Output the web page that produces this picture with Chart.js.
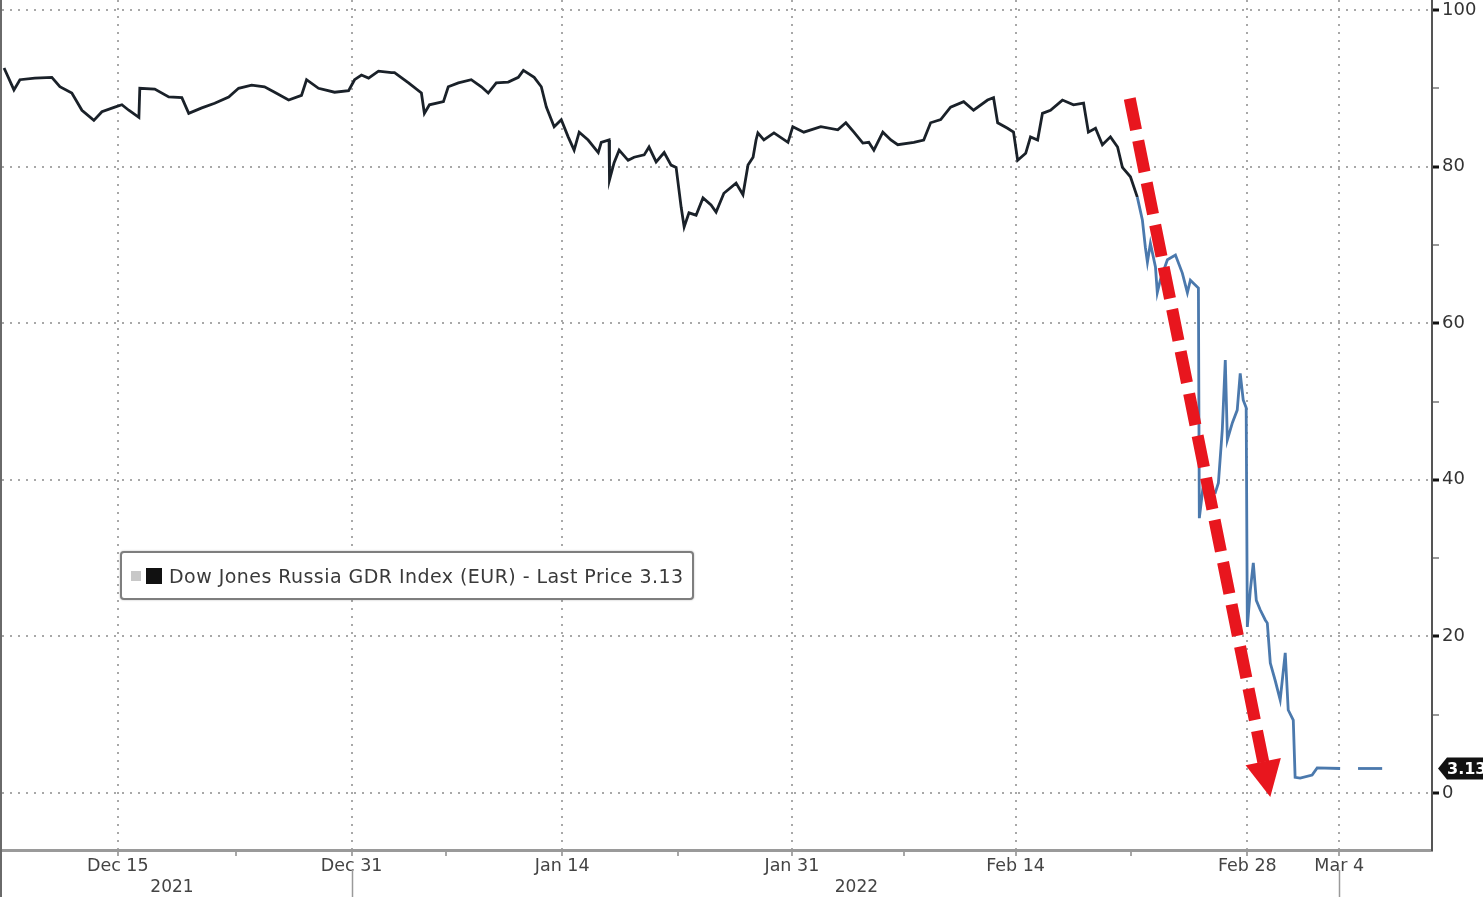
<!DOCTYPE html>
<html>
<head>
<meta charset="utf-8">
<title>Dow Jones Russia GDR Index (EUR)</title>
<script src="https://cdn.jsdelivr.net/npm/chart.js@4.4.1/dist/chart.umd.min.js"></script>
<style>
  html, body { margin: 0; padding: 0; background: #fff; }
  #wrap {
    position: absolute; left: 0; top: 0;
    width: 1483px; height: 897px;
    border-left: 2px solid #6a6a6a;
    box-sizing: border-box;
    overflow: hidden;
  }
  #grafico { display: block; }
  .leyenda {
    position: absolute; left: 118px; top: 551px;
    width: 574px; height: 49px;
    box-sizing: border-box;
    border: 2px solid #7e7e7e;
    border-radius: 4px;
    background: #fff;
    box-shadow: 0 0 2px rgba(0,0,0,.3);
    font-family: "DejaVu Sans", sans-serif;
    font-size: 19px;
    letter-spacing: 0.45px;
    color: #3a3a3a;
    display: flex; align-items: center;
    padding-left: 9px;
    white-space: nowrap;
  }
  .leyenda .sq1 { width: 10px; height: 10px; background: #c8c8c8; margin-right: 5px; }
  .leyenda .sq2 { width: 16px; height: 16px; background: #111; margin-right: 7px; }
</style>
</head>
<body>
<div id="wrap">
  <canvas id="grafico" width="1481" height="897"></canvas>
  <div class="leyenda" id="leyenda"><span class="sq1"></span><span class="sq2"></span><span id="leyendaTexto"></span></div>
</div>

<script>
// --- Datos (x = días hábiles desde el borde izquierdo) ---
const nombreSerie = "Dow Jones Russia GDR Index (EUR)";
const ultimoPrecio = 3.13;

const dias = [
  0.09, 0.52, 0.78, 1.43, 2.17, 2.52, 3.04, 3.48, 4.00, 4.35, 4.91, 5.22, 5.52, 5.96, 6.00,
  6.65, 7.26, 7.83, 8.13, 8.70, 9.26, 9.87, 10.30, 10.87, 11.43, 11.87, 12.48, 13.04, 13.26,
  13.78, 14.48, 15.09, 15.35, 15.65, 15.96, 16.39, 16.96, 17.09, 17.70, 18.26, 18.39, 18.61,
  19.22, 19.43, 19.87, 20.43, 20.87, 21.17, 21.52, 22.04, 22.48, 22.70, 23.17, 23.48, 23.70,
  24.04, 24.35, 24.65, 24.91, 25.13, 25.52, 25.96, 26.09, 26.43, 26.45, 26.65, 26.87, 27.26,
  27.52, 27.96, 28.17, 28.48, 28.83, 29.13, 29.35, 29.57, 29.70, 29.91, 30.22, 30.52, 30.87,
  31.09, 31.43, 31.96, 32.26, 32.48, 32.70, 32.83, 32.91, 33.17, 33.61, 34.22, 34.43, 34.91,
  35.65, 36.39, 36.74, 37.09, 37.48, 37.74, 37.96, 38.35, 38.70, 39.00, 39.70, 40.13, 40.43,
  40.87, 41.30, 41.87, 42.30, 42.91, 43.17, 43.35, 43.78, 44.04, 44.22, 44.57, 44.78, 45.09,
  45.30, 45.65, 46.17, 46.65, 47.09, 47.30, 47.61, 47.91, 48.26, 48.57, 48.78, 49.13, 49.43,
  49.65, 49.78, 49.87, 50.00, 50.22, 50.30, 50.43, 50.74, 51.09, 51.39, 51.61, 51.74, 52.09,
  52.13, 52.30, 52.61, 52.83, 52.96, 53.13, 53.26, 53.35, 53.57, 53.78, 53.91, 54.04, 54.17,
  54.22, 54.35, 54.48, 54.61, 54.78, 55.00, 55.09, 55.22, 55.43, 55.65, 55.87, 56.00, 56.22,
  56.30, 56.52, 57.04, 57.26, 58.26, 58.60, 59.04, 60.09
];

const precios = [
  92.6, 89.8, 91.1, 91.3, 91.4, 90.2, 89.4, 87.2, 85.9, 87.0, 87.6, 87.9, 87.2, 86.3, 90.0,
  89.9, 88.9, 88.8, 86.8, 87.5, 88.1, 88.9, 90.0, 90.4, 90.2, 89.5, 88.5, 89.1, 91.1,
  90.0, 89.5, 89.7, 91.1, 91.7, 91.3, 92.2, 92.0, 92.0, 90.7, 89.4, 86.8, 87.9,
  88.3, 90.2, 90.7, 91.1, 90.2, 89.4, 90.7, 90.8, 91.4, 92.3, 91.4, 90.2, 87.6,
  85.1, 86.0, 83.8, 82.1, 84.4, 83.4, 81.8, 83.1, 83.4, 78.3, 80.5, 82.1, 80.8,
  81.2, 81.5, 82.5, 80.6, 81.8, 80.2, 79.9, 74.8, 72.3, 74.1, 73.8, 76.0, 75.1,
  74.2, 76.6, 77.9, 76.4, 80.2, 81.2, 83.4, 84.3, 83.4, 84.3, 83.1, 85.1, 84.4,
  85.1, 84.7, 85.6, 84.4, 83.0, 83.1, 82.1, 84.4, 83.4, 82.8, 83.1, 83.4, 85.6,
  86.0, 87.6, 88.3, 87.2, 88.5, 88.8, 85.6, 84.9, 84.4, 80.8, 81.7, 83.8, 83.4,
  86.8, 87.2, 88.5, 87.9, 88.1, 84.4, 84.9, 82.8, 83.8, 82.5, 79.9, 78.7, 76.1,
  73.2, 69.7, 67.8, 70.2, 67.2, 63.9, 65.5, 68.1, 68.7, 66.4, 63.9, 65.5, 64.5,
  35.1, 39.3, 38.7, 38.4, 39.6, 46.4, 55.3, 45.1, 47.3, 48.9, 53.6, 50.2, 49.2,
  21.2, 25.9, 29.4, 24.6, 23.4, 22.1, 21.7, 16.6, 14.4, 11.9, 17.9, 10.6, 9.3,
  2.0, 1.9, 2.3, 3.2, 3.13, null, 3.13, 3.13
];

// Marcas del eje X (las que tienen texto llevan línea de grilla)
const marcasX = [5.04, 10.17, 15.22, 19.35, 24.39, 29.43, 34.39, 39.26, 44.13, 49.17, 54.22, 58.22];
const etiquetasX = ["Dec 15", "", "Dec 31", "", "Jan 14", "", "Jan 31", "", "Feb 14", "", "Feb 28", "Mar 4"];
const anios = ["2021", "2022"];
const posAnios = [7.4, 37.2];
const separadoresX = [15.22, 58.22];

// Eje Y
const marcasY = [0, 10, 20, 30, 40, 50, 60, 70, 80, 90, 100];
const limitesY = [-7.28, 101.28];
const limitesX = [0, 62.26];

// Flecha roja (inicio y punta, en unidades del gráfico)
const flechaX = [49.1, 55.22];
const flechaY = [88.7, -0.5];

document.getElementById("leyendaTexto").textContent =
  `${nombreSerie} - Last Price ${ultimoPrecio.toFixed(2)}`;

const FUENTE = '"DejaVu Sans", sans-serif';
const esMayorX = (v) => etiquetasX[marcasX.indexOf(v)] !== "";
const esMayorY = (v) => v % 20 === 0;

// Extras dibujados sobre el canvas: años, separadores, flecha y etiqueta de precio
const extras = {
  id: "extras",
  afterDraw(chart) {
    const { ctx, scales: { x, y }, chartArea } = chart;
    ctx.save();

    // separadores bajo el eje
    ctx.strokeStyle = "#9a9a9a";
    ctx.lineWidth = 1.5;
    separadoresX.forEach((v) => {
      const px = Math.round(x.getPixelForValue(v)) + 0.5;
      ctx.beginPath();
      ctx.moveTo(px, chartArea.bottom + 20);
      ctx.lineTo(px, chart.height);
      ctx.stroke();
    });

    // años
    ctx.fillStyle = "#444";
    ctx.font = `17px ${FUENTE}`;
    ctx.textAlign = "center";
    ctx.textBaseline = "middle";
    anios.forEach((a, i) => ctx.fillText(a, x.getPixelForValue(posAnios[i]), chartArea.bottom + 38));

    // flecha roja punteada
    const x0 = x.getPixelForValue(flechaX[0]), y0 = y.getPixelForValue(flechaY[0]);
    const x1 = x.getPixelForValue(flechaX[1]), y1 = y.getPixelForValue(flechaY[1]);
    const ang = Math.atan2(y1 - y0, x1 - x0);
    const largoCabeza = 36, anchoCabeza = 18;
    const bx = x1 - Math.cos(ang) * largoCabeza, by = y1 - Math.sin(ang) * largoCabeza;
    ctx.strokeStyle = "#e8161e";
    ctx.lineWidth = 12;
    ctx.setLineDash([32, 11]);
    ctx.lineCap = "butt";
    ctx.beginPath();
    ctx.moveTo(x0, y0);
    ctx.lineTo(bx + Math.cos(ang) * 4, by + Math.sin(ang) * 4);
    ctx.stroke();
    ctx.setLineDash([]);
    ctx.fillStyle = "#e8161e";
    ctx.beginPath();
    ctx.moveTo(x1, y1);
    ctx.lineTo(bx + Math.sin(ang) * anchoCabeza, by - Math.cos(ang) * anchoCabeza);
    ctx.lineTo(bx - Math.sin(ang) * anchoCabeza, by + Math.cos(ang) * anchoCabeza);
    ctx.closePath();
    ctx.fill();

    // etiqueta del último precio
    const py = y.getPixelForValue(ultimoPrecio);
    const lx = chartArea.right + 6;
    ctx.fillStyle = "#111";
    ctx.beginPath();
    ctx.moveTo(lx, py);
    ctx.lineTo(lx + 9, py - 11);
    ctx.lineTo(chart.width + 5, py - 11);
    ctx.lineTo(chart.width + 5, py + 11);
    ctx.lineTo(lx + 9, py + 11);
    ctx.closePath();
    ctx.fill();
    ctx.fillStyle = "#fff";
    ctx.font = `bold 16px ${FUENTE}`;
    ctx.textAlign = "left";
    ctx.fillText(ultimoPrecio.toFixed(2), lx + 9, py + 1);

    ctx.restore();
  },
};

new Chart(document.getElementById("grafico"), {
  type: "line",
  data: {
    datasets: [
      {
        label: nombreSerie,
        data: dias.map((d, i) => ({ x: d, y: precios[i] })),
        borderColor: "#1a2129",
        borderWidth: 2.8,
        pointRadius: 0,
        tension: 0,
        spanGaps: false,
        segment: {
          borderColor: (c) =>
            Math.abs(c.p1.parsed.y - c.p0.parsed.y) > 6 || c.p0.parsed.x > 49.4
              ? "#4b79ad"
              : "#1a2129",
        },
      },
    ],
  },
  options: {
    responsive: false,
    animation: false,
    devicePixelRatio: 1,
    layout: { padding: 0 },
    plugins: { legend: { display: false }, tooltip: { enabled: false } },
    scales: {
      x: {
        type: "linear",
        position: "bottom",
        min: limitesX[0],
        max: limitesX[1],
        afterBuildTicks: (axis) => { axis.ticks = marcasX.map((v) => ({ value: v })); },
        afterFit: (axis) => {
          axis.height = 47;
          axis.paddingLeft = 0;
          axis.paddingRight = 0;
        },
        ticks: {
          autoSkip: false,
          maxRotation: 0,
          padding: 0,
          color: "#444",
          font: { family: FUENTE, size: 17.5 },
          callback: (v) => etiquetasX[marcasX.indexOf(v)] ?? "",
        },
        grid: {
          color: (c) => (c.tick && esMayorX(c.tick.value) ? "#a8a8a8" : "rgba(0,0,0,0)"),
          lineWidth: 2,
          tickColor: "#8a8a8a",
          tickLength: 6,
          tickWidth: 1.5,
        },
        border: { display: true, color: "#9a9a9a", width: 3, dash: [2, 6] },
      },
      y: {
        type: "linear",
        position: "right",
        min: limitesY[0],
        max: limitesY[1],
        afterBuildTicks: (axis) => { axis.ticks = marcasY.map((v) => ({ value: v })); },
        afterFit: (axis) => {
          axis.width = 51;
          axis.paddingTop = 0;
          axis.paddingBottom = 0;
        },
        ticks: {
          padding: 3,
          color: "#333",
          font: { family: FUENTE, size: 18 },
          callback: (v) => (esMayorY(v) ? String(v) : ""),
        },
        grid: {
          color: (c) => (c.tick && esMayorY(c.tick.value) ? "#a8a8a8" : "rgba(0,0,0,0)"),
          lineWidth: 2,
          tickColor: (c) => (c.tick && esMayorY(c.tick.value) ? "#111" : "#777"),
          tickWidth: (c) => (c.tick && esMayorY(c.tick.value) ? 3 : 1.5),
          tickLength: 7,
        },
        border: { display: true, color: "#555", width: 2, dash: [2, 6] },
      },
    },
  },
  plugins: [extras],
});
</script>
</body>
</html>
